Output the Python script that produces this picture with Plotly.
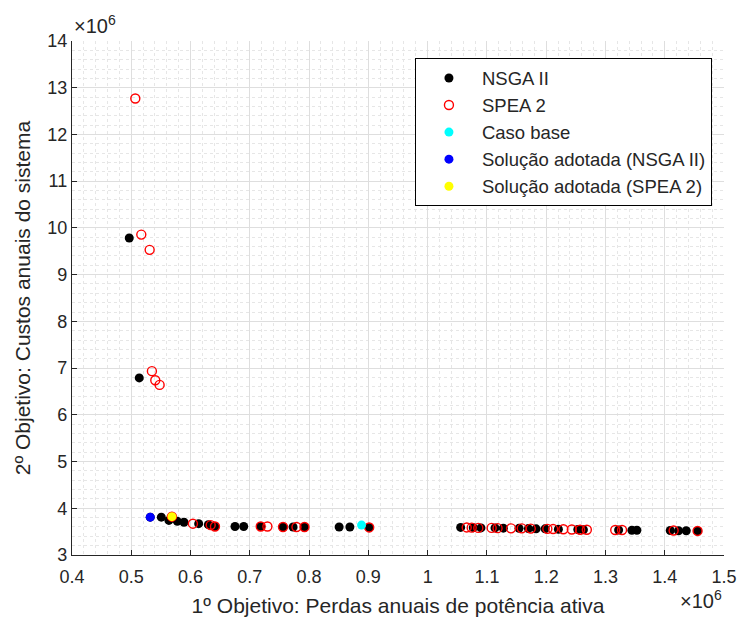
import plotly.graph_objects as go

# Values in units of 10^6
nsga_x = [0.4966, 0.5135, 0.532, 0.5507, 0.5635, 0.5777, 0.589, 0.6137, 0.630, 0.6412,
          0.675, 0.6897, 0.7184, 0.756, 0.773, 0.7922, 0.8507, 0.8688, 0.9014, 1.0557,
          1.077, 1.09, 1.1137, 1.1277, 1.1542, 1.17, 1.183, 1.1982, 1.2206, 1.2533,
          1.2628, 1.3222, 1.3446, 1.353, 1.4093, 1.4233, 1.4363, 1.4554]
nsga_y = [9.785, 6.79, 3.81, 3.81, 3.74, 3.72, 3.70, 3.67, 3.65, 3.61,
          3.61, 3.61, 3.61, 3.60, 3.60, 3.60, 3.60, 3.60, 3.59, 3.59,
          3.585, 3.58, 3.58, 3.575, 3.57, 3.565, 3.56, 3.56, 3.55, 3.545,
          3.54, 3.535, 3.53, 3.53, 3.525, 3.52, 3.52, 3.515]

spea_x = [0.5068, 0.5169, 0.531, 0.5348, 0.5405, 0.5478, 0.5686, 0.604, 0.634, 0.6412,
          0.7184, 0.7297, 0.756, 0.7787, 0.7922, 0.9014, 1.0659, 1.0743, 1.0855, 1.108,
          1.118, 1.1407, 1.1588, 1.174, 1.202, 1.2117, 1.229, 1.2432, 1.2572, 1.2686,
          1.3165, 1.328, 1.415, 1.4554]
spea_y = [12.77, 9.857, 9.53, 6.935, 6.74, 6.64, 3.82, 3.67, 3.64, 3.61,
          3.61, 3.61, 3.60, 3.60, 3.60, 3.59, 3.59, 3.585, 3.58, 3.58,
          3.575, 3.57, 3.57, 3.565, 3.56, 3.555, 3.55, 3.545, 3.54, 3.54,
          3.535, 3.535, 3.525, 3.515]

base_x = [0.8885]
base_y = [3.64]
adot_nsga_x = [0.532]
adot_nsga_y = [3.81]
adot_spea_x = [0.5686]
adot_spea_y = [3.82]

x_title = "1º Objetivo: Perdas anuais de potência ativa"
y_title = "2º Objetivo: Custos anuais do sistema"

FONT = "Liberation Sans, Arial, sans-serif"
TXT = "#262626"

fig = go.Figure()
fig.add_trace(go.Scatter(x=nsga_x, y=nsga_y, mode="markers", name="NSGA II",
                         marker=dict(color="black", size=9, line=dict(width=0))))
fig.add_trace(go.Scatter(x=spea_x, y=spea_y, mode="markers", name="SPEA 2",
                         marker=dict(symbol="circle-open", color="#ff0000", size=9,
                                     line=dict(width=1.4, color="#ff0000"))))
fig.add_trace(go.Scatter(x=base_x, y=base_y, mode="markers", name="Caso base",
                         marker=dict(color="#00ffff", size=9, line=dict(width=0))))
fig.add_trace(go.Scatter(x=adot_nsga_x, y=adot_nsga_y, mode="markers",
                         name="Solução adotada (NSGA II)",
                         marker=dict(color="#0000ff", size=9, line=dict(width=0))))
fig.add_trace(go.Scatter(x=adot_spea_x, y=adot_spea_y, mode="markers",
                         name="Solução adotada (SPEA 2)",
                         marker=dict(color="#ffff00", size=9, line=dict(width=0))))

axis_common = dict(
    showline=True, linecolor=TXT, linewidth=1.2,
    ticks="inside", ticklen=5, tickcolor=TXT, tickwidth=1,
    showgrid=True, gridcolor="#dedede", gridwidth=1,
    zeroline=False, automargin=False,
    tickfont=dict(family=FONT, size=18, color=TXT),
)

fig.update_xaxes(range=[0.4, 1.5], dtick=0.1, tick0=0.4,
                 ticklabelstandoff=5,
                 minor=dict(dtick=0.02, showgrid=True, gridcolor="#e6e6e6",
                            griddash="dot", gridwidth=1),
                 title=dict(text=x_title, font=dict(family=FONT, size=21, color=TXT),
                            standoff=12),
                 **axis_common)
fig.update_yaxes(range=[3, 14], dtick=1, tick0=3,
                 minor=dict(dtick=0.2, showgrid=True, gridcolor="#e6e6e6",
                            griddash="dot", gridwidth=1),
                 title=dict(text=y_title, font=dict(family=FONT, size=21, color=TXT),
                            standoff=10),
                 **axis_common)

fig.add_annotation(xref="paper", yref="paper", x=0, y=1, xanchor="left", yanchor="bottom",
                   yshift=2, showarrow=False,
                   text="×10<sup>6</sup>", font=dict(family=FONT, size=20, color=TXT))
fig.add_annotation(xref="paper", yref="paper", x=1, y=0, xanchor="right", yanchor="top",
                   yshift=-30, showarrow=False,
                   text="×10<sup>6</sup>", font=dict(family=FONT, size=20, color=TXT))

fig.update_layout(
    width=740, height=618,
    margin=dict(l=72, r=16, t=41, b=63),
    paper_bgcolor="white", plot_bgcolor="white",
    font=dict(family=FONT, color=TXT),
    legend=dict(x=0.526, y=0.966, xanchor="left", yanchor="top",
                bgcolor="white", bordercolor="black", borderwidth=1,
                font=dict(family=FONT, size=18.5, color=TXT),
                itemwidth=56, tracegroupgap=0),
    showlegend=True,
)

fig.write_html("out.html")
